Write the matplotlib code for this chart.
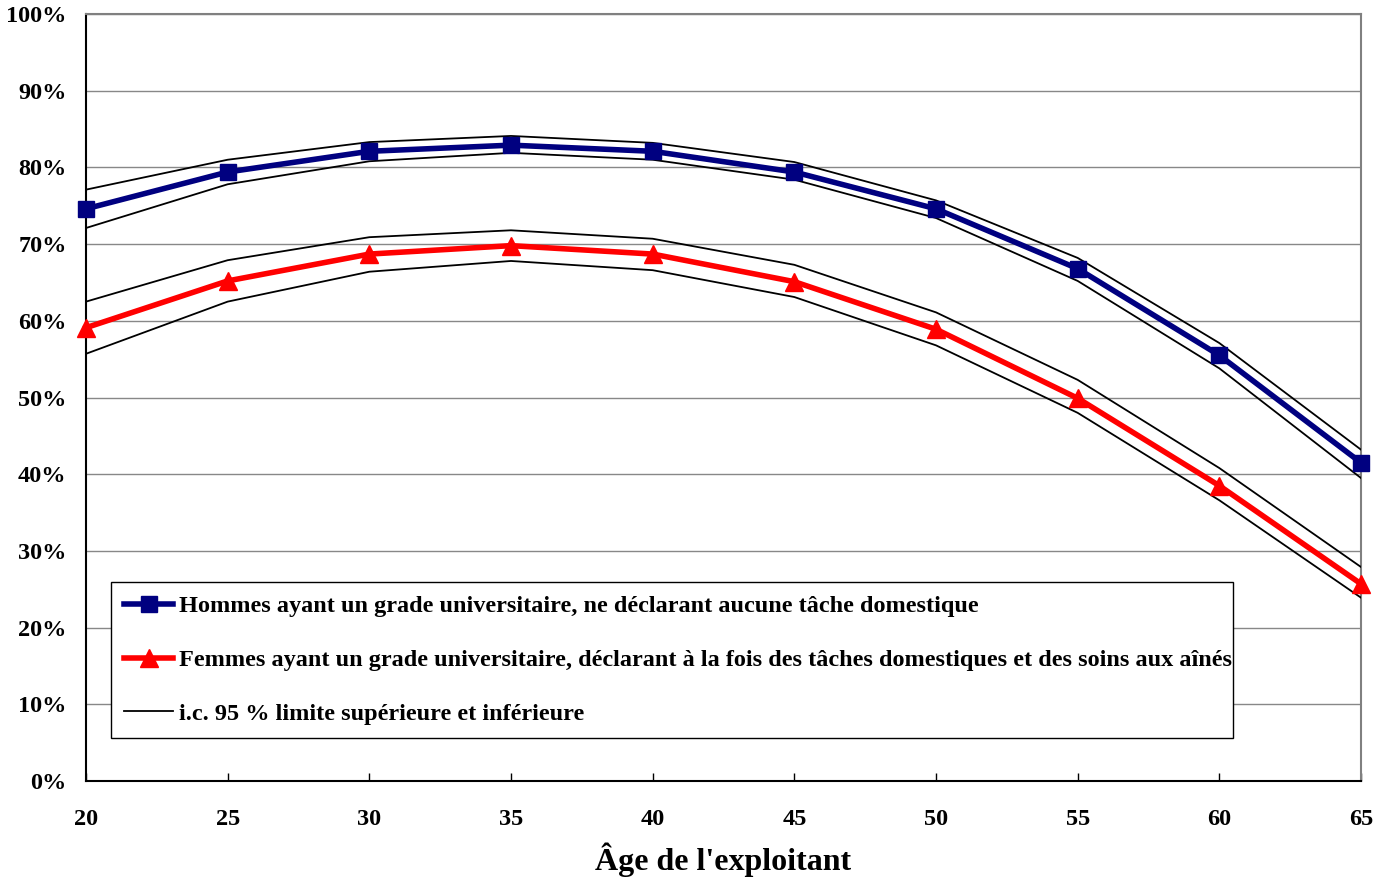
import matplotlib
matplotlib.use("Agg")
import matplotlib.pyplot as plt
from matplotlib.lines import Line2D
from matplotlib.ticker import FuncFormatter

ages = [20, 25, 30, 35, 40, 45, 50, 55, 60, 65]

men = [74.6, 79.4, 82.1, 82.9, 82.1, 79.4, 74.6, 66.8, 55.5, 41.5]
men_upper = [77.1, 81.0, 83.3, 84.1, 83.2, 80.7, 75.7, 68.2, 57.1, 43.2]
men_lower = [72.1, 77.8, 80.8, 81.9, 81.0, 78.4, 73.4, 65.2, 53.8, 39.5]

women = [59.1, 65.2, 68.7, 69.8, 68.7, 65.1, 58.9, 49.9, 38.5, 25.7]
women_upper = [62.5, 67.9, 70.9, 71.8, 70.7, 67.3, 61.1, 52.3, 40.8, 27.9]
women_lower = [55.7, 62.5, 66.4, 67.8, 66.6, 63.1, 56.8, 48.0, 36.6, 23.9]

label_men = "Hommes ayant un grade universitaire, ne déclarant aucune tâche domestique"
label_women = ("Femmes ayant un grade universitaire, déclarant à la fois des tâches "
               "domestiques et des soins aux aînés")
label_ci = "i.c. 95 % limite supérieure et inférieure"
xlabel = "Âge de l'exploitant"

plt.rcParams["font.family"] = ["Liberation Serif", "DejaVu Serif"]
plt.rcParams["font.weight"] = "bold"

fig = plt.figure(figsize=(13.89, 8.77), dpi=100)
ax = fig.add_axes([86 / 1389, 1 - 781 / 877, (1361 - 86) / 1389, (781 - 14) / 877])

navy = "#000080"
red = "#ff0000"

for series in (men_upper, men_lower, women_upper, women_lower):
    ax.plot(ages, series, color="black", lw=1.3, zorder=3)

ax.plot(ages, men, color=navy, lw=4, marker="s", ms=12, zorder=4,
        clip_on=False)
ax.plot(ages, women, color=red, lw=4, marker="^", ms=13, zorder=4,
        clip_on=False)

ax.set_xlim(20, 65)
ax.set_ylim(0, 100)
ax.set_xticks(ages)
ax.set_yticks(range(0, 101, 10))
ax.yaxis.set_major_formatter(FuncFormatter(lambda v, p: f"{int(v)}%"))
ax.grid(axis="y", color="#888888", lw=1)
ax.set_axisbelow(True)

ax.tick_params(axis="x", direction="in", length=6, width=1, pad=20,
               labelsize=17.5)
ax.tick_params(axis="y", length=0, pad=14, labelsize=17.5)
for t in ax.get_xticklabels() + ax.get_yticklabels():
    t.set_fontweight("bold")

ax.spines["left"].set_color("black")
ax.spines["bottom"].set_color("black")
ax.spines["left"].set_linewidth(1.5)
ax.spines["bottom"].set_linewidth(1.5)
ax.spines["top"].set_color("#808080")
ax.spines["right"].set_color("#808080")
ax.spines["top"].set_linewidth(1.5)
ax.spines["right"].set_linewidth(1.5)

ax.set_xlabel(xlabel, fontsize=23, fontweight="bold", labelpad=9)

handles = [
    Line2D([], [], color=navy, lw=4, marker="s", ms=12),
    Line2D([], [], color=red, lw=4, marker="^", ms=13),
    Line2D([], [], color="black", lw=1.3),
]
leg = ax.legend(handles, [label_men, label_women, label_ci],
                loc="lower left", bbox_to_anchor=(25 / 1275, 43 / 767,
                                                  1122 / 1275, 161 / 767),
                mode="expand", fancybox=False, framealpha=1, edgecolor="black",
                borderpad=0.55, labelspacing=1.3, handlelength=2.0,
                handletextpad=0.25, borderaxespad=0,
                prop={"family": ["Liberation Serif"], "weight": "bold", "size": 17.5})
leg.get_frame().set_linewidth(1.0)

fig.savefig("out.png", dpi=100)
